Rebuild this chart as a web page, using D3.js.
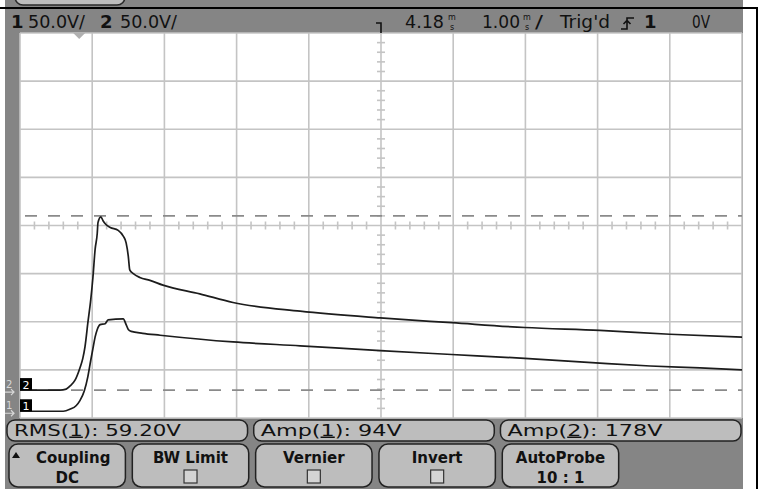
<!DOCTYPE html>
<html>
<head>
<meta charset="utf-8">
<script src="https://cdn.jsdelivr.net/npm/d3@7"></script>
<style>
    body { margin: 0; background: #ffffff; }
    svg { display: block; }
    text { font-family: 'DejaVu Sans', sans-serif; fill: #111111; }
</style>
</head>
<body>
<div id="chart"></div>
<script>
// scope settings
const delayMs = 4.18
const msPerDiv = 1.0
const voltsPerDiv = 50
const ch1GroundDiv = -3.86
const ch2GroundDiv = -3.42

// channel 2 (the tall pulse)
const ch2TimeMs = [-0.82, -0.27, -0.18, -0.13, -0.06, 0.01, 0.05, 0.08, 0.12, 0.16, 0.19, 0.22, 0.25, 0.26, 0.30,
    0.33, 0.37, 0.43, 0.54, 0.61, 0.65, 0.68, 0.70, 0.75, 0.84, 0.98, 1.16, 1.67, 2.13, 3.06, 4.17, 5.16, 6.17, 7.21, 8.18, 9.18]
const ch2Volts = [0, 0, 1, 4, 10, 23, 33, 45, 70, 94, 117, 146, 163, 174, 180,
    176, 172, 169, 166, 160, 153, 139, 125, 121, 117, 114, 109, 100, 91, 82, 75, 70, 65, 62, 58, 55]

// channel 1
const ch1TimeMs = [-0.82, -0.22, -0.13, -0.04, 0.01, 0.07, 0.12, 0.16, 0.19, 0.22, 0.25, 0.29, 0.36, 0.40, 0.61,
    0.65, 0.68, 0.72, 0.88, 1.12, 2.13, 3.06, 4.17, 5.16, 6.17, 7.21, 7.91, 8.60, 9.18]
const ch1Volts = [0, 0, 2, 6, 11, 21, 36, 53, 65, 77, 85, 90, 91, 95, 96,
    90, 85, 83, 81, 79, 72, 68, 63, 59, 55, 50, 47, 45, 43]

// Amp(2) top / base markers, in channel 2 volts
const ampMarkerVolts = [181, 0]

const measureNames = ['RMS', 'Amp', 'Amp']
const measureChannels = ['1', '1', '2']
const measureValues = ['59.20V', '94V', '178V']

const softkeyLabels = ['Coupling', 'BW Limit', 'Vernier', 'Invert', 'AutoProbe']
const softkeyValues = ['DC', null, null, null, '10 : 1']

const scope = {
    layout: {
        width: 760,
        height: 489,
        left: 20,
        right: 742,
        top: 33,
        bottom: 418
    },
    scale: {
        x: null,
        div: null,
        y: null
    },
    colors: {
        bezel: '#858585',
        key: '#bdbdbd',
        grid: '#c4c4c4',
        trace: '#1c1c1c'
    },
    init() {
        const l = this.layout
        this.scale.x = d3.scaleLinear().domain([delayMs - 5 * msPerDiv, delayMs + 5 * msPerDiv]).range([l.left, l.right])
        this.scale.div = d3.scaleLinear().domain([-5, 5]).range([l.left, l.right])
        this.scale.y = d3.scaleLinear().domain([-4, 4]).range([l.bottom, l.top])
    },
    yVolts(v, ground) {
        return this.scale.y(ground + v / voltsPerDiv)
    },
    draw(body) {
        this.init()
        const svg = d3.select(body)
            .append('svg')
            .attr('width', this.layout.width)
            .attr('height', this.layout.height)
            .attr('viewBox', `0 0 ${this.layout.width} ${this.layout.height}`)
            .attr('xmlns', 'http://www.w3.org/2000/svg')

        this.drawFrame(svg)
        this.drawGrid(svg)
        this.drawTraces(svg)
        this.drawHeader(svg)
        this.drawMarkers(svg)
        this.drawMeasurements(svg)
        this.drawSoftkeys(svg)
    },
    drawFrame(svg) {
        const l = this.layout
        // screen body
        svg.append('rect').attr('x', 5).attr('y', 0).attr('width', 738).attr('height', l.height)
            .attr('fill', this.colors.bezel)
        // bottom of the previous softkey row peeking above
        svg.append('rect').attr('x', 15).attr('y', -20).attr('width', 110).attr('height', 25).attr('rx', 8)
            .attr('fill', this.colors.key).attr('stroke', '#2a2a2a').attr('stroke-width', 1.5)
        svg.append('rect').attr('x', l.left).attr('y', l.top)
            .attr('width', l.right - l.left).attr('height', l.bottom - l.top)
            .attr('fill', '#ffffff')
        svg.append('line').attr('x1', 0).attr('x2', 758).attr('y1', 8).attr('y2', 8)
            .attr('stroke', '#000').attr('stroke-width', 2)
        svg.append('line').attr('x1', 757).attr('x2', 757).attr('y1', 8).attr('y2', l.height)
            .attr('stroke', '#000').attr('stroke-width', 2)
    },
    drawGrid(svg) {
        const l = this.layout
        const g = svg.append('g').attr('stroke', this.colors.grid).attr('stroke-width', 1.6)
        g.selectAll('line.v').data(d3.range(-5, 6)).enter().append('line')
            .attr('x1', d => this.scale.div(d)).attr('x2', d => this.scale.div(d))
            .attr('y1', l.top).attr('y2', l.bottom)
        g.selectAll('line.h').data(d3.range(-4, 5)).enter().append('line')
            .attr('x1', l.left).attr('x2', l.right)
            .attr('y1', d => this.scale.y(d)).attr('y2', d => this.scale.y(d))

        const cx = this.scale.div(0)
        const cy = this.scale.y(0)
        g.selectAll('line.tx').data(d3.range(-5, 5.01, 0.2).filter(d => Math.abs(d - Math.round(d)) > 0.01)).enter().append('line')
            .attr('x1', d => this.scale.div(d)).attr('x2', d => this.scale.div(d))
            .attr('y1', cy - 4).attr('y2', cy + 4)
        g.selectAll('line.ty').data(d3.range(-4, 4.01, 0.2).filter(d => Math.abs(d - Math.round(d)) > 0.01)).enter().append('line')
            .attr('y1', d => this.scale.y(d)).attr('y2', d => this.scale.y(d))
            .attr('x1', cx - 4).attr('x2', cx + 4)

        // dashed Amp(2) markers
        svg.append('g').selectAll('line').data(ampMarkerVolts).enter().append('line')
            .attr('x1', l.left + 5).attr('x2', l.right)
            .attr('y1', d => this.yVolts(d, ch2GroundDiv)).attr('y2', d => this.yVolts(d, ch2GroundDiv))
            .attr('stroke', '#8a8a8a').attr('stroke-width', 1.6).attr('stroke-dasharray', '12,11')
    },
    drawTraces(svg) {
        const l = this.layout
        svg.append('clipPath').attr('id', 'plot-clip').append('rect')
            .attr('x', l.left).attr('y', l.top).attr('width', l.right - l.left).attr('height', l.bottom - l.top)
        const traces = [
            { ground: ch2GroundDiv, values: ch2TimeMs.map((t, i) => ({ t, v: ch2Volts[i] })) },
            { ground: ch1GroundDiv, values: ch1TimeMs.map((t, i) => ({ t, v: ch1Volts[i] })) }
        ]
        svg.append('g').attr('clip-path', 'url(#plot-clip)')
            .selectAll('path').data(traces).enter().append('path')
            .attr('d', tr => d3.line()
                .x(d => this.scale.x(d.t))
                .y(d => this.yVolts(d.v, tr.ground))
                .curve(d3.curveMonotoneX)(tr.values))
            .attr('fill', 'none')
            .attr('stroke', this.colors.trace)
            .attr('stroke-width', 1.7)
    },
    drawHeader(svg) {
        const base = 28
        const big = (x, s) => svg.append('text').attr('x', x).attr('y', base)
            .attr('font-size', 18).attr('font-weight', 'bold').text(s)
        const small = (x, s, w) => svg.append('text').attr('x', x).attr('y', base)
            .attr('font-size', 17).attr('textLength', w).attr('lengthAdjust', 'spacingAndGlyphs').text(s)
        big(11, '1')
        small(28, '50.0V/', 57)
        big(100, '2')
        small(120, '50.0V/', 57)
        small(405, '4.18', 39)
        small(482, '1.00', 38)
        small(535, '/', 8)
        small(560, "Trig'd", 50)
        big(644, '1')
        small(692, '0V', 18)

        // stacked "ms" units
        const unit = x => {
            const t = svg.append('text').attr('font-size', 8).attr('text-anchor', 'middle')
            t.append('tspan').attr('x', x).attr('y', 19.5).text('m')
            t.append('tspan').attr('x', x).attr('y', 29.5).text('s')
        }
        unit(452)
        unit(527)

        // rising edge trigger symbol
        svg.append('path').attr('d', 'M621,29 H627 V18 H634 M623.5,24 L627,20.5 L630.5,24')
            .attr('fill', 'none').attr('stroke', '#111').attr('stroke-width', 1.6)

        // time reference marker
        svg.append('path').attr('d', 'M376,23 H381 V33')
            .attr('fill', 'none').attr('stroke', '#111').attr('stroke-width', 1.6)
    },
    drawMarkers(svg) {
        const x0 = this.scale.x(0)
        const top = this.layout.top
        svg.append('path').attr('d', `M${x0 - 6},${top} L${x0 + 6},${top} L${x0},${top + 6} Z`)
            .attr('fill', '#b0b0b0')

        const grounds = [['2', ch2GroundDiv], ['1', ch1GroundDiv]]
        const g = svg.append('g')
        grounds.forEach(([ch, div]) => {
            const y = this.scale.y(div)
            g.append('rect').attr('x', 20).attr('y', y - 12).attr('width', 12).attr('height', 12).attr('fill', '#000')
            g.append('text').attr('x', 26).attr('y', y - 1.5).attr('text-anchor', 'middle')
                .attr('font-size', 11).style('fill', '#fff').text(ch)
            g.append('text').attr('x', 6).attr('y', y - 2).attr('font-size', 10)
                .style('fill', '#d8d8d8').text(ch)
            g.append('path').attr('d', `M5,${y + 2} H14 M11,${y - 1} L14,${y + 2} L11,${y + 5}`)
                .attr('fill', 'none').attr('stroke', '#d8d8d8').attr('stroke-width', 1.2)
        })
    },
    drawMeasurements(svg) {
        const band = d3.scaleBand().domain(d3.range(3)).range([7, 741]).paddingInner(0.025)
        const widths = [167, 141, 155]
        const g = svg.selectAll('g.meas').data(measureNames).enter().append('g')
            .attr('transform', (d, i) => `translate(${band(i)},420)`)
        g.append('rect').attr('width', band.bandwidth()).attr('height', 21).attr('rx', 8)
            .attr('fill', this.colors.key).attr('stroke', '#222').attr('stroke-width', 1.5)
        const t = g.append('text').attr('x', 7).attr('y', 15.5).attr('font-size', 15)
            .attr('textLength', (d, i) => widths[i]).attr('lengthAdjust', 'spacingAndGlyphs')
        t.append('tspan').text(d => d + '(')
        t.append('tspan').style('text-decoration', 'underline').text((d, i) => measureChannels[i])
        t.append('tspan').text((d, i) => '):  ' + measureValues[i])
    },
    drawSoftkeys(svg) {
        const band = d3.scaleBand().domain(d3.range(6)).range([7, 742]).paddingInner(0.04)
        const g = svg.selectAll('g.key').data(softkeyLabels).enter().append('g')
            .attr('transform', (d, i) => `translate(${band(i) + 2},444)`)
        const w = band.bandwidth() - 2
        const valueOf = d => softkeyValues[softkeyLabels.indexOf(d)]
        g.append('rect').attr('width', w).attr('height', 43).attr('rx', 9)
            .attr('fill', this.colors.key).attr('stroke', '#222').attr('stroke-width', 1.5)
        g.append('text').attr('x', (d, i) => i === 0 ? w / 2 + 6 : w / 2).attr('y', 19)
            .attr('text-anchor', 'middle').attr('font-size', 15).attr('font-weight', 'bold')
            .text(d => d)
        g.filter(d => valueOf(d) !== null).append('text')
            .attr('x', w / 2).attr('y', 39).attr('text-anchor', 'middle')
            .attr('font-size', 15).attr('font-weight', 'bold')
            .text(d => valueOf(d))
        g.filter(d => valueOf(d) === null).append('rect')
            .attr('x', w / 2 - 6.5).attr('y', 26).attr('width', 13).attr('height', 13)
            .attr('fill', '#d4d4d4').attr('stroke', '#333').attr('stroke-width', 1.2)
        g.filter((d, i) => i === 0).append('path').attr('d', 'M3,14 L7,8 L11,14 Z').attr('fill', '#111')
    }
}

scope.draw(document.getElementById('chart'))
</script>
</body>
</html>
